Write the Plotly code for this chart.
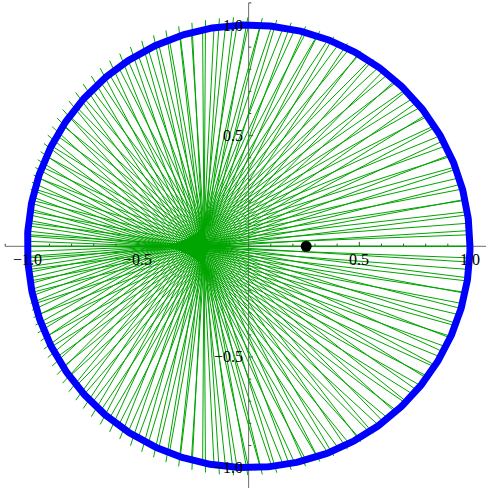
import numpy as np
import plotly.graph_objects as go

# ---- data / parameters ----
N_RAYS = 120              # number of reflection points on the circle
SOURCE = [0.22, 0.0]      # light source used for the reflected rays
DOT = [0.26, 0.0]         # black point as drawn
RAY_LENGTH = 2.0          # length of each reflected ray
MAJOR_TICKS = [-1.0, -0.5, 0.5, 1.0]
MAJOR_LABELS = ["\u22121.0", "\u22120.5", "0.5", "1.0"]
MINOR_X = [round(v, 1) for v in np.arange(-1.1, 1.01, 0.1)]
MINOR_Y = [round(v, 1) for v in np.arange(-1.0, 1.11, 0.1)]

X_RANGE = [-1.1235, 1.0725]
Y_RANGE = [-1.092, 1.113]

# ---- geometry ----
theta = np.linspace(0, 2 * np.pi, N_RAYS + 1)
sx, sy = SOURCE
ray_x, ray_y = [], []
for t in theta:
    px, py = np.cos(t), np.sin(t)
    dx, dy = px - sx, py - sy
    n = np.hypot(dx, dy)
    dx, dy = dx / n, dy / n
    dot = dx * px + dy * py
    rx, ry = dx - 2 * dot * px, dy - 2 * dot * py
    ray_x += [px, px + RAY_LENGTH * rx, None]
    ray_y += [py, py + RAY_LENGTH * ry, None]

circ_t = np.linspace(0, 2 * np.pi, 721)

fig = go.Figure()

# axes (drawn as data lines)
ax_x = [-1.1, X_RANGE[1], None, 0, 0]
ax_y = [0, 0, None, 1.1, Y_RANGE[0]]
fig.add_trace(go.Scatter(x=ax_x, y=ax_y, mode="lines",
                         line=dict(color="#6e6e6e", width=1), hoverinfo="skip"))

tx, ty = [], []
maj_len, min_len = 0.02, 0.012
for v in MINOR_X:
    L = maj_len if v in MAJOR_TICKS else min_len
    tx += [v, v, None]
    ty += [0, L, None]
for v in MINOR_Y:
    L = maj_len if v in MAJOR_TICKS else min_len
    tx += [0, L, None]
    ty += [v, v, None]
fig.add_trace(go.Scatter(x=tx, y=ty, mode="lines",
                         line=dict(color="#444444", width=1), hoverinfo="skip"))

fig.add_trace(go.Scatter(x=ray_x, y=ray_y, mode="lines",
                         line=dict(color="rgb(0,165,0)", width=1), hoverinfo="skip"))

fig.add_trace(go.Scatter(x=np.cos(circ_t), y=np.sin(circ_t), mode="lines",
                         line=dict(color="rgb(0,0,255)", width=7), hoverinfo="skip"))

fig.add_trace(go.Scatter(x=[DOT[0]], y=[DOT[1]], mode="markers",
                         marker=dict(color="black", size=11), hoverinfo="skip"))

font = dict(family="Liberation Serif, Times New Roman, serif", size=16, color="black")
for v, lab in zip(MAJOR_TICKS, MAJOR_LABELS):
    fig.add_annotation(x=v, y=0, text=lab, showarrow=False, font=font,
                       xanchor="center", yanchor="top", yshift=-3)
    fig.add_annotation(x=0, y=v, text=lab, showarrow=False, font=font,
                       xanchor="right", yanchor="middle", xshift=-4)

fig.update_layout(
    width=486, height=488, margin=dict(l=0, r=0, t=0, b=0),
    paper_bgcolor="white", plot_bgcolor="white", showlegend=False,
    xaxis=dict(range=X_RANGE, visible=False, fixedrange=True),
    yaxis=dict(range=Y_RANGE, visible=False, fixedrange=True),
)
fig.write_html("out.html", config={"displayModeBar": False},
               post_script="document.body.style.margin='0';document.body.style.overflow='hidden';")
